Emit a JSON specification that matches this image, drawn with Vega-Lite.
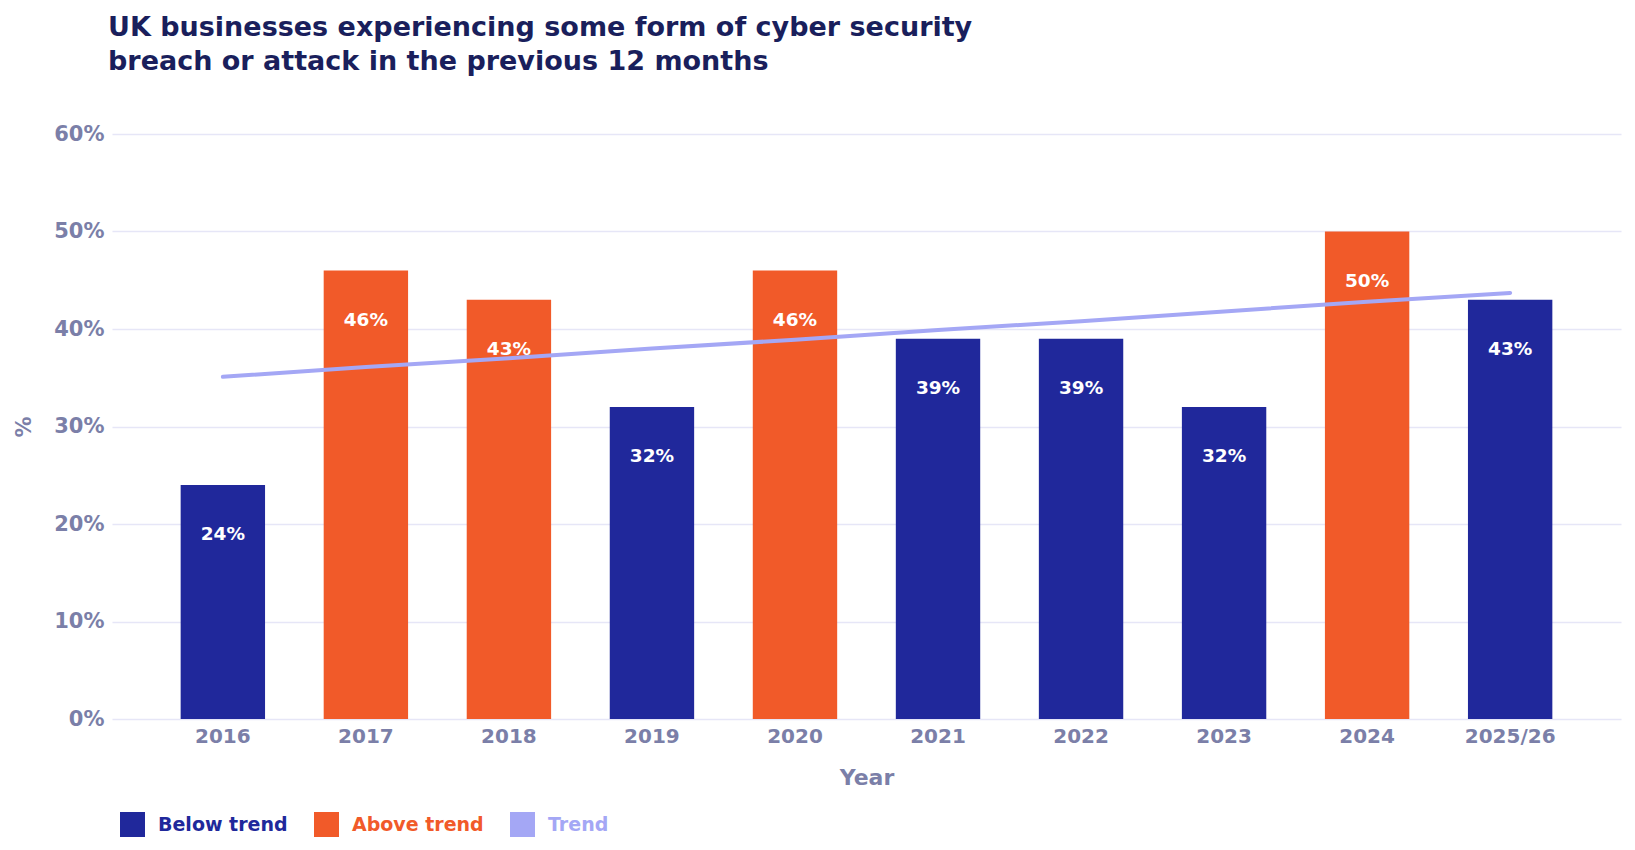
{
  "$schema": "https://vega.github.io/schema/vega-lite/v6.json",
  "width": 1509,
  "height": 585,
  "autosize": {"type": "none"},
  "padding": {"left": 112, "top": 134, "right": 14, "bottom": 131},
  "background": "white",
  "config": {
    "font": "DejaVu Sans",
    "view": {"stroke": null}
  },
  "title": {
    "text": ["UK businesses experiencing some form of cyber security", "breach or attack in the previous 12 months"],
    "anchor": "start",
    "frame": "group",
    "fontSize": 27,
    "fontWeight": "bold",
    "color": "#1a1f5c",
    "lineHeight": 34,
    "offset": 47,
    "dx": -4
  },
  "data": {
    "values": [
      {"year": "2016", "value": 24, "label": "24%", "category": "Below trend", "trend": 35.1},
      {"year": "2017", "value": 46, "label": "46%", "category": "Above trend", "trend": 36.1},
      {"year": "2018", "value": 43, "label": "43%", "category": "Above trend", "trend": 37.0},
      {"year": "2019", "value": 32, "label": "32%", "category": "Below trend", "trend": 38.0},
      {"year": "2020", "value": 46, "label": "46%", "category": "Above trend", "trend": 38.9},
      {"year": "2021", "value": 39, "label": "39%", "category": "Below trend", "trend": 39.9},
      {"year": "2022", "value": 39, "label": "39%", "category": "Below trend", "trend": 40.8},
      {"year": "2023", "value": 32, "label": "32%", "category": "Below trend", "trend": 41.8},
      {"year": "2024", "value": 50, "label": "50%", "category": "Above trend", "trend": 42.8},
      {"year": "2025/26", "value": 43, "label": "43%", "category": "Below trend", "trend": 43.7}
    ]
  },
  "encoding": {
    "x": {
      "field": "year",
      "type": "nominal",
      "sort": null,
      "scale": {"paddingInner": 0.41, "paddingOuter": 0.48},
      "axis": {
        "title": "Year",
        "labelAngle": 0,
        "labelFontSize": 20,
        "labelFontWeight": "bold",
        "labelColor": "#7b7fa8",
        "labelPadding": 7,
        "titleFontSize": 22,
        "titleFontWeight": "bold",
        "titleColor": "#7b7fa8",
        "titlePadding": 21,
        "ticks": false,
        "domain": false
      }
    }
  },
  "layer": [
    {
      "mark": {"type": "bar"},
      "encoding": {
        "y": {
          "field": "value",
          "type": "quantitative",
          "scale": {"domain": [0, 60]},
          "axis": {
            "title": "%",
            "values": [0, 10, 20, 30, 40, 50, 60],
            "labelExpr": "datum.value + '%'",
            "labelFontSize": 21,
            "labelFontWeight": "bold",
            "labelColor": "#7b7fa8",
            "labelPadding": 8,
            "titleFontSize": 21,
            "titleFontWeight": "bold",
            "titleColor": "#7b7fa8",
            "titlePadding": 19,
            "ticks": false,
            "domain": false,
            "gridColor": "#e6e6f7",
            "gridWidth": 1.5
          }
        },
        "color": {
          "field": "category",
          "type": "nominal",
          "scale": {
            "domain": ["Below trend", "Above trend", "Trend"],
            "range": ["#20289b", "#f15a29", "#a4a7f5"]
          },
          "legend": {
            "title": null,
            "orient": "none",
            "legendX": 8,
            "legendY": 678,
            "direction": "horizontal",
            "symbolType": "square",
            "symbolSize": 625,
            "symbolStrokeWidth": 0,
            "labelFontSize": 19,
            "labelFontWeight": "bold",
            "columnPadding": 26,
            "labelOffset": 13,
            "encode": {
              "labels": {
                "update": {
                  "fill": {"signal": "datum.value === 'Below trend' ? '#20289b' : datum.value === 'Above trend' ? '#f15a29' : '#a4a7f5'"}
                }
              }
            }
          }
        }
      }
    },
    {
      "mark": {"type": "line", "color": "#a4a7f5", "strokeWidth": 4, "strokeCap": "round"},
      "encoding": {
        "y": {"field": "trend", "type": "quantitative"}
      }
    },
    {
      "mark": {"type": "text", "color": "white", "fontSize": 18.5, "fontWeight": "bold", "baseline": "middle", "dy": 49},
      "encoding": {
        "y": {"field": "value", "type": "quantitative"},
        "text": {"field": "label", "type": "nominal"}
      }
    }
  ]
}
